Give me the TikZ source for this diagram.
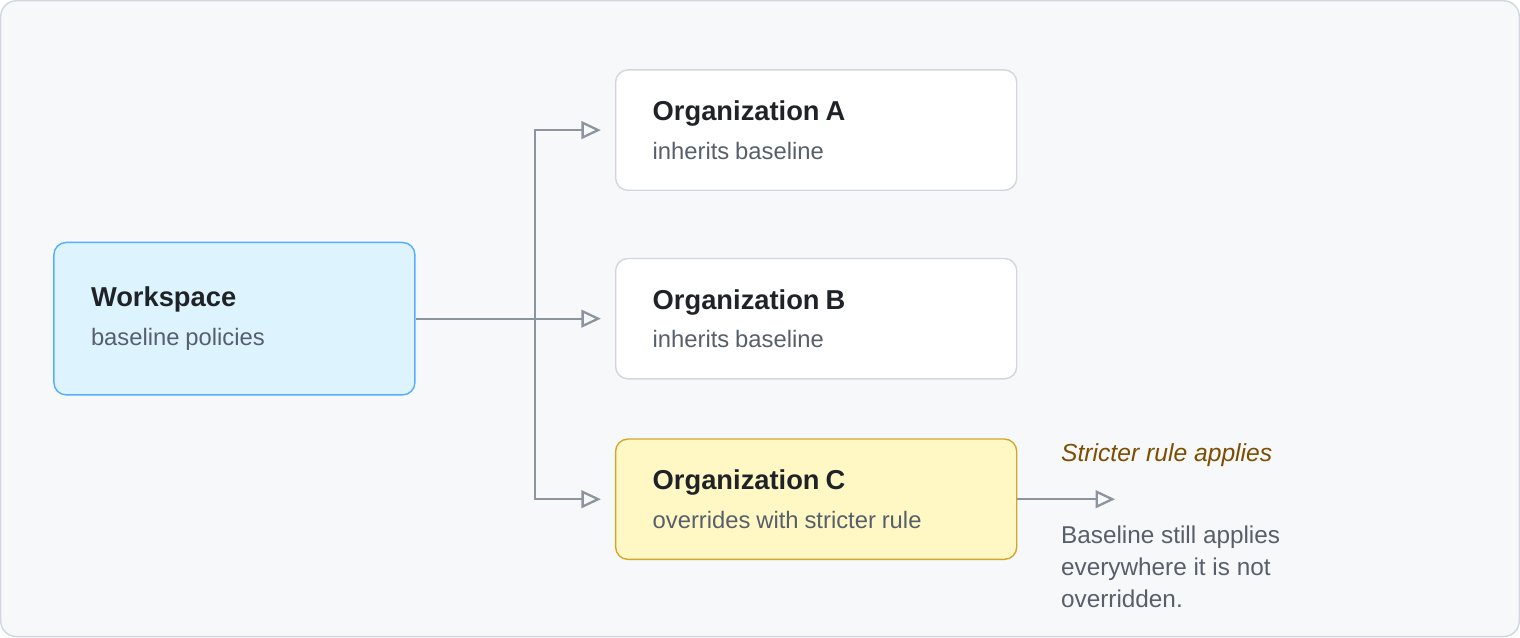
\documentclass[tikz,border=0pt]{standalone}
\usepackage{fontspec}
\setmainfont{Liberation Sans}
\usetikzlibrary{positioning,arrows.meta}
\definecolor{bgfill}{HTML}{F6F8FA}
\definecolor{bgline}{HTML}{D0D7DE}
\definecolor{wsfill}{HTML}{DDF4FF}
\definecolor{wsline}{HTML}{54AEFF}
\definecolor{ocfill}{HTML}{FFF8C5}
\definecolor{ocline}{HTML}{D4A72C}
\definecolor{linkgray}{HTML}{8C959F}
\definecolor{titletext}{HTML}{1F2328}
\definecolor{subtext}{HTML}{57606A}
\definecolor{warntext}{HTML}{7D4E00}
\newcommand{\boxtitle}[1]{{\fontsize{15.5}{18}\selectfont\bfseries\color{titletext}#1}}
\newcommand{\boxsub}[1]{{\fontsize{13.5}{16}\selectfont\color{subtext}#1}}
\begin{document}
\begin{tikzpicture}[x=0.02cm,y=-0.02cm,
            box/.style={rectangle, rounded corners=7pt, draw=bgline, fill=white, line width=0.8pt,
                minimum width=8cm, minimum height=2.4cm, align=left, text width=6.52cm, inner sep=0pt},
            link/.style={-{Triangle[open,length=11pt,width=10pt]}, draw=linkgray, line width=1.3pt}
        ]

        \draw[draw=bgline, fill=bgfill, rounded corners=9pt, line width=0.8pt] (3,3) rectangle (1517,637);

        \node[box, draw=wsline, fill=wsfill, minimum width=7.2cm, minimum height=3.04cm, text width=5.72cm] (ws) at (236,320)
            {\boxtitle{Workspace}\\[8pt]\boxsub{baseline policies}};
        \node[box] (orga) at (816,132)
            {\boxtitle{Organization A}\\[8pt]\boxsub{inherits baseline}};
        \node[box] (orgb) at (816,320)
            {\boxtitle{Organization B}\\[8pt]\boxsub{inherits baseline}};
        \node[box, draw=ocline, fill=ocfill] (orgc) at (816,500)
            {\boxtitle{Organization C}\\[8pt]\boxsub{overrides with stricter rule}};

        \coordinate (split) at (536,320);
        \coordinate (outc) at (1114,500);

        \draw[link, shorten >=0.28cm] (ws.east) -- (orgb.west);
        \draw[link, shorten >=0.28cm] (split) |- (orga.west);
        \draw[link, shorten >=0.28cm] (split) |- (orgc.west);
        \draw[link] (orgc.east) -- (outc);

        \node[anchor=west, text=warntext, font=\fontsize{14}{16}\selectfont\itshape] (strict) at (1054,456) {Stricter rule applies};
        \node[anchor=north west, text=subtext, align=left, font=\fontsize{13.8}{18.2}\selectfont] (note) at (1054,520)
            {Baseline still applies\\everywhere it is not\\overridden.};

    \end{tikzpicture}
\end{document}
